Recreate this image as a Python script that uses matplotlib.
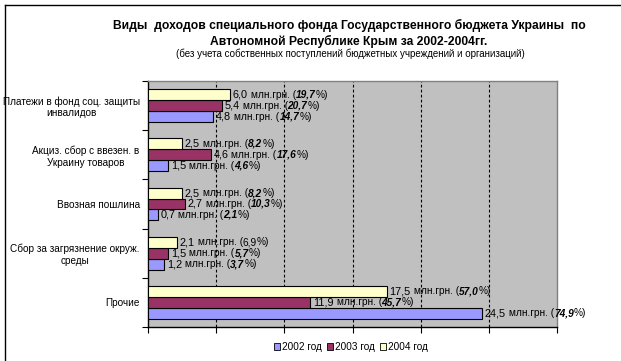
import matplotlib
matplotlib.use('Agg')
import matplotlib.pyplot as plt
from matplotlib.lines import Line2D
from matplotlib.patches import Patch
from matplotlib.offsetbox import TextArea, HPacker, AnnotationBbox

plt.rcParams['font.family'] = ['Liberation Sans', 'DejaVu Sans']

# categories, top to bottom
categories = ['Платежи в фонд соц. защиты\nинвалидов',
              'Акциз. сбор с ввезен. в\nУкраину товаров',
              'Ввозная пошлина',
              'Сбор за загрязнение окруж.\nсреды',
              'Прочие']
years = ['2002 год', '2003 год', '2004 год']
val_2002 = [4.8, 1.5, 0.7, 1.2, 24.5]
val_2003 = [5.4, 4.6, 2.7, 1.5, 11.9]
val_2004 = [6.0, 2.5, 2.5, 2.1, 17.5]
pct_2002 = ['14,7', '4,6', '2,1', '3,7', '74,9']
pct_2003 = ['20,7', '17,6', '10,3', '5,7', '45,7']
pct_2004 = ['19,7', '8,2', '8,2', '6,9', '57,0']

colors = ['#9999FF', '#993366', '#FFFFCC']

fig = plt.figure(figsize=(6.21, 3.61), dpi=100)
W, H = 621, 361
ax = fig.add_axes([148 / W, 1 - 327 / H, (557 - 148) / W, (327 - 81) / H])
ax.set_facecolor('#C0C0C0')

n = len(categories)
ypos = [n - 1 - i for i in range(n)]
h = 0.667 / 3
series = [(val_2002, pct_2002, -h), (val_2003, pct_2003, 0), (val_2004, pct_2004, h)]

fs = 7.3
for k, (vals, pcts, off) in enumerate(series):
    ys = [y + off for y in ypos]
    ax.barh(ys, vals, height=h, color=colors[k], edgecolor='black', linewidth=0.8, zorder=3)
    for v, p, y in zip(vals, pcts, ys):
        num = ('%.1f' % v).replace('.', ',')
        italic = not (k == 2 and p == '6,9')
        pct_props = dict(size=fs, style='italic', weight='bold') if italic else dict(size=fs)
        box = HPacker(children=[
            TextArea(num, textprops=dict(size=fs + 0.5)),
            TextArea(' млн.грн. (', textprops=dict(size=fs)),
            TextArea(p, textprops=pct_props),
            TextArea('%)', textprops=dict(size=fs)),
        ], align='center', pad=0, sep=0)
        ab = AnnotationBbox(box, (v, y), xybox=(2, 0), xycoords='data',
                            boxcoords='offset points', box_alignment=(0, 0.5),
                            frameon=False, pad=0, zorder=4)
        ax.add_artist(ab)

ax.set_xlim(0, 30)
ax.set_ylim(-0.5, n - 0.5)
ax.set_xticks([0, 5, 10, 15, 20, 25, 30])
ax.set_xticklabels([])
ax.tick_params(axis='x', direction='out', length=4, width=0.8, color='black')
for gx in [5, 10, 15, 20, 25]:
    ax.axvline(gx, color='black', linestyle=(0, (2.5, 2)), linewidth=0.8, zorder=1)

ax.set_yticks([i - 0.5 for i in range(n + 1)])
ax.set_yticklabels([])
ax.tick_params(axis='y', which='major', direction='out', length=4, width=0.8)
ax.set_yticks(ypos, labels=categories, minor=True)
ax.tick_params(axis='y', which='minor', length=0, pad=6, labelsize=7.2)
for lbl in ax.get_yticklabels(minor=True):
    lbl.set_multialignment('center')

for s in ['left', 'bottom']:
    ax.spines[s].set_color('black')
    ax.spines[s].set_linewidth(1)
for s in ['top', 'right']:
    ax.spines[s].set_color('#808080')
    ax.spines[s].set_linewidth(1)

fig.text(349 / W, 1 - 25 / H, 'Виды  доходов специального фонда Государственного бюджета Украины  по',
         ha='center', va='center', fontsize=8.75, fontweight='bold')
fig.text(349 / W, 1 - 41 / H, 'Автономной Республике Крым за 2002-2004гг.',
         ha='center', va='center', fontsize=8.75, fontweight='bold')
fig.text(350 / W, 1 - 54 / H, '(без учета собственных поступлений бюджетных учреждений и организаций)',
         ha='center', va='center', fontsize=7)

handles = [Patch(facecolor=c, edgecolor='black', linewidth=0.6) for c in colors]
fig.legend(handles, years, loc='center', bbox_to_anchor=(351 / W, 1 - 347 / H), ncol=3,
           frameon=False, fontsize=7.2, handlelength=0.6, handleheight=0.6,
           handletextpad=0.2, columnspacing=0.5, borderpad=0)

# chart area border (only top and left visible)
fig.add_artist(Line2D([5 / W, 1], [1 - 5 / H, 1 - 5 / H], color='black', linewidth=1,
                      transform=fig.transFigure))
fig.add_artist(Line2D([5 / W, 5 / W], [0, 1 - 5 / H], color='black', linewidth=1,
                      transform=fig.transFigure))

fig.savefig('out.png', dpi=100)
